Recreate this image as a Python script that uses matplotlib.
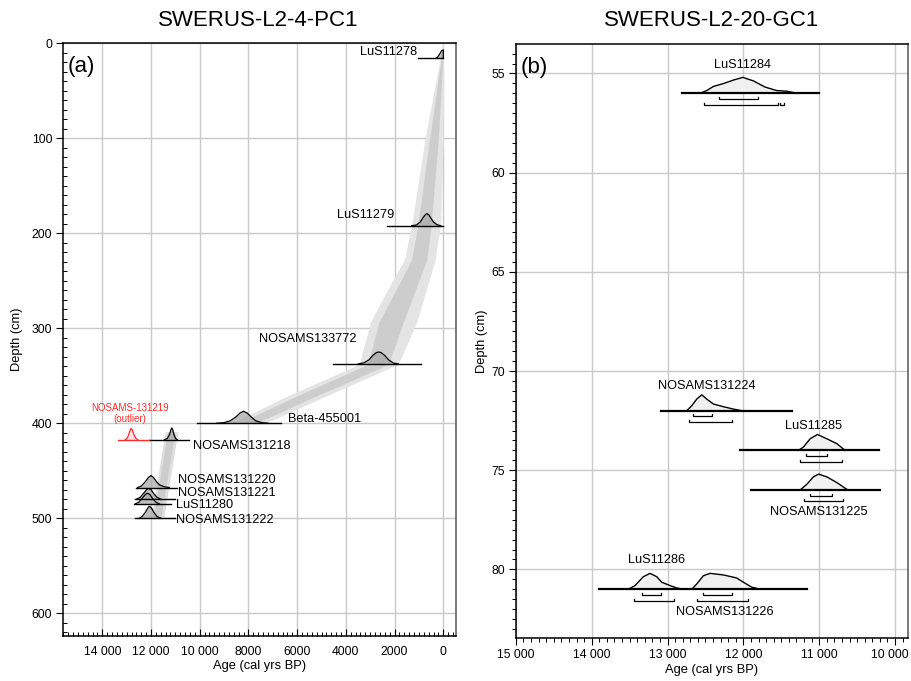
import matplotlib.pyplot as plt
import matplotlib.transforms as mtransforms
import numpy as np
from matplotlib.ticker import FixedLocator, MultipleLocator

plt.rcParams["font.family"] = ["Liberation Sans", "DejaVu Sans"]

# ---------------------------------------------------------------------------
# Panel (a): SWERUS-L2-4-PC1
# age-depth envelope, upper unit (depth cm; ages cal BP: 95% old, 68% old,
# 68% young, 95% young)
UP_DEPTH = [0, 15, 100, 192, 228, 260, 294, 338, 370, 400]
UP_95_OLD = [20, 120, 750, 1300, 1600, 2300, 3000, 3450, 6300, 8700]
UP_68_OLD = [10, 80, 560, 1050, 1300, 1950, 2650, 3100, 5900, 8400]
UP_68_YNG = [0, 20, 200, 500, 680, 1150, 1650, 2250, 5100, 7700]
UP_95_YNG = [-10, -10, 0, 120, 340, 700, 1100, 1850, 4700, 7300]
# lower unit
LO_DEPTH = [409, 500]
LO_95_OLD = [11420, 12000]
LO_68_OLD = [11320, 11900]
LO_68_YNG = [11020, 11600]
LO_95_YNG = [10900, 11480]

A_NAMES = ["LuS11278", "LuS11279", "NOSAMS133772", "Beta-455001",
           "NOSAMS131218", "NOSAMS131220", "NOSAMS131221", "LuS11280",
           "NOSAMS131222"]
A_DEPTH = [15.8, 192, 337.6, 400, 417.5, 467.7, 480, 485, 500]
A_BASE_OLD = [1040, 2320, 4540, 10100, 12090, 12620, 12650, 12690, 12650]
A_BASE_YNG = [0, 0, 920, 6680, 10450, 10950, 11000, 11180, 11000]

# calibrated probability curves (age, relative density)
A_AGE = [
    [300, 235, 150, 66, 0, 0],
    [1300, 1100, 950, 820, 720, 670, 600, 500, 400, 250, 100],
    [3500, 3250, 3050, 2900, 2750, 2650, 2550, 2400, 2250, 2050, 1850],
    [9300, 9000, 8750, 8500, 8350, 8200, 8050, 7900, 7700, 7450, 7200],
    [11450, 11330, 11240, 11180, 11150, 11110, 11060, 10990, 10920],
    [12550, 12400, 12250, 12100, 12000, 11900, 11780, 11650, 11450, 11250],
    [12600, 12450, 12300, 12180, 12100, 12000, 11880, 11750, 11600],
    [12650, 12500, 12350, 12230, 12150, 12050, 11930, 11800, 11650],
    [12480, 12360, 12230, 12130, 12070, 11980, 11870, 11740, 11590],
]
A_P = [
    [0, 0.1, 0.35, 0.65, 0.7, 0],
    [0, 0.06, 0.3, 0.7, 0.95, 1.0, 0.92, 0.6, 0.3, 0.07, 0],
    [0, 0.1, 0.35, 0.7, 0.95, 1.0, 0.95, 0.7, 0.35, 0.08, 0],
    [0, 0.05, 0.2, 0.55, 0.85, 1.0, 0.85, 0.55, 0.2, 0.05, 0],
    [0, 0.12, 0.45, 0.85, 1.0, 0.85, 0.45, 0.12, 0],
    [0, 0.12, 0.45, 0.85, 1.0, 0.85, 0.5, 0.22, 0.06, 0],
    [0, 0.15, 0.5, 0.8, 0.9, 0.8, 0.45, 0.15, 0],
    [0, 0.15, 0.5, 0.8, 0.9, 0.8, 0.45, 0.15, 0],
    [0, 0.15, 0.5, 0.85, 1.0, 0.85, 0.45, 0.12, 0],
]
A_LABEL_AGE = [1060, 2000, 5550, 6370, 10270, 10890, 10890, 10960, 10960]
A_LABEL_DEPTH = [9, 181, 311.6, 396, 423.6, 459.7, 473, 486, 501.8]
A_LABEL_HA = ["right", "right", "center", "left", "left", "left", "left",
              "left", "left"]

# outlier NOSAMS-131219
OUT_DEPTH = 417.5
OUT_BASE = [13370, 12090]
OUT_AGE = [13060, 12960, 12890, 12840, 12810, 12770, 12700, 12620, 12540]
OUT_P = [0, 0.2, 0.6, 0.9, 0.95, 0.85, 0.45, 0.12, 0]

A_XTICKS = [14000, 12000, 10000, 8000, 6000, 4000, 2000, 0]
A_XTICKLABELS = ["14 000", "12 000", "10 000", "8000", "6000", "4000",
                 "2000", "0"]
A_YTICKS = [0, 100, 200, 300, 400, 500, 600]

# ---------------------------------------------------------------------------
# Panel (b): SWERUS-L2-20-GC1
B_NAMES = ["LuS11284", "NOSAMS131224", "LuS11285", "NOSAMS131225",
           "LuS11286", "NOSAMS131226"]
B_DEPTH = [56, 72, 74, 76, 81, 81]
B_LINE_DEPTH = [56, 72, 74, 76, 81]
B_LINE_OLD = [12805, 13086, 12043, 11902, 13900]
B_LINE_YNG = [11001, 11362, 10210, 10197, 11156]
B_68_OLD = [12320, 12660, 11177, 11120, 13340, 12536]
B_68_YNG = [11810, 12410, 10892, 10826, 13090, 12153]
B_95_OLD = [12515, 12717, 11252, 11195, 13442, 12615]
B_95_YNG = [11540, 12153, 10702, 10680, 12914, 11942]
B_95_EXTRA = [11520, 11460]  # small second 95% range of LuS11284

B_AGE = [
    [12571, 12483, 12395, 12264, 12132, 12008, 11868, 11714, 11560, 11428,
     11296],
    [12747, 12681, 12615, 12549, 12483, 12396, 12264, 12132, 12021],
    [11274, 11208, 11120, 11024, 10900, 10768, 10658],
    [11252, 11164, 11077, 11010, 10900, 10768, 10636, 10592],
    [13517, 13429, 13319, 13231, 13143, 13077, 12967, 12879, 12791],
    [12681, 12615, 12528, 12440, 12264, 12088, 12000, 11890, 11780],
]
B_P = [
    [0, 0.17, 0.43, 0.61, 0.83, 1.0, 0.78, 0.39, 0.17, 0.13, 0],
    [0, 0.31, 0.73, 1.0, 0.73, 0.42, 0.25, 0.10, 0],
    [0, 0.21, 0.73, 1.0, 0.73, 0.42, 0],
    [0, 0.36, 0.83, 1.0, 0.83, 0.47, 0.04, 0],
    [0, 0.23, 0.79, 1.0, 0.79, 0.44, 0.23, 0.08, 0],
    [0, 0.33, 0.85, 1.0, 0.9, 0.71, 0.44, 0.13, 0],
]
B_LABEL_AGE = [12008, 12483, 11077, 11010, 13143, 12242]
B_LABEL_DEPTH = [54.58, 70.76, 72.78, 77.1, 79.53, 82.14]

B_XTICKS = [15000, 14000, 13000, 12000, 11000, 10000]
B_XTICKLABELS = ["15 000", "14 000", "13 000", "12 000", "11 000", "10 000"]
B_YTICKS = [55, 60, 65, 70, 75, 80]

A_PEAK_H = 12.6   # cm of depth for p = 1
B_PEAK_H = 0.8
GRID = "#c9c9c9"
LABEL_FS = 9.2


def style_axes(ax):
    ax.grid(True, color=GRID, lw=1.0, zorder=0)
    ax.set_axisbelow(True)
    for side in ("left", "top", "bottom"):
        ax.spines[side].set_linewidth(1.1)
        ax.spines[side].set_color("black")
    ax.spines["right"].set_linewidth(1.1)
    ax.spines["right"].set_color("#555555")
    ax.tick_params(labelsize=8.8, width=0.8, length=5, color="black",
                   pad=3)
    ax.tick_params(which="minor", width=0.7, length=3)


fig = plt.figure(figsize=(9.11, 6.81), dpi=100)

# ---------------- panel (a) ----------------
ax1 = fig.add_axes([0.0695, 0.0661, 0.4310, 0.8703])
style_axes(ax1)
ax1.fill_betweenx(UP_DEPTH, UP_95_OLD, UP_95_YNG, color="#e4e4e4", lw=0,
                  zorder=1)
ax1.fill_betweenx(UP_DEPTH, UP_68_OLD, UP_68_YNG, color="#cdcdcd", lw=0,
                  zorder=1.1)
ax1.fill_betweenx(LO_DEPTH, LO_95_OLD, LO_95_YNG, color="#dedede", lw=0,
                  zorder=1)
ax1.fill_betweenx(LO_DEPTH, LO_68_OLD, LO_68_YNG, color="#cdcdcd", lw=0,
                  zorder=1.1)

for i, name in enumerate(A_NAMES):
    d = A_DEPTH[i]
    ages = np.asarray(A_AGE[i])
    top = d - np.asarray(A_P[i]) * A_PEAK_H
    ax1.fill_between(ages, d, top, color="#a9a9a9", alpha=0.75, lw=0,
                     zorder=3)
    ax1.plot(ages, top, color="black", lw=0.9, zorder=4)
    ax1.plot([A_BASE_OLD[i], A_BASE_YNG[i]], [d, d], color="black", lw=1.0,
             zorder=4)
    ax1.text(A_LABEL_AGE[i], A_LABEL_DEPTH[i], name, ha=A_LABEL_HA[i],
             va="center", fontsize=LABEL_FS, zorder=5)

out_top = OUT_DEPTH - np.asarray(OUT_P) * A_PEAK_H
ax1.fill_between(OUT_AGE, OUT_DEPTH, out_top, color="#fbe3e3", lw=0, zorder=3)
ax1.plot(OUT_AGE, out_top, color="#ff2a2a", lw=0.9, zorder=4)
ax1.plot(OUT_BASE, [OUT_DEPTH, OUT_DEPTH], color="#ff2a2a", lw=1.0, zorder=4)
ax1.text(12850, 383.6, "NOSAMS-131219", color="#ff2a2a", fontsize=7,
         ha="center", va="center")
ax1.text(12850, 395.8, "(outlier)", color="#ff2a2a", fontsize=7,
         ha="center", va="center")

ax1.set_xlim(15600, -520)
ax1.set_ylim(624, 0)
ax1.xaxis.set_major_locator(FixedLocator(A_XTICKS))
ax1.set_xticklabels(A_XTICKLABELS)
ax1.xaxis.set_minor_locator(MultipleLocator(200))
ax1.yaxis.set_major_locator(FixedLocator(A_YTICKS))
ax1.yaxis.set_minor_locator(MultipleLocator(10))
ax1.tick_params(axis="x", which="both", direction="in")
ax1.tick_params(axis="y", which="minor", direction="in")
ax1.tick_params(axis="x", which="major", pad=7)
ax1.set_xlabel("Age (cal yrs BP)", fontsize=9.3, labelpad=2)
ax1.set_ylabel("Depth (cm)", fontsize=9.3, labelpad=6)
ax1.text(0.012, 0.978, "(a)", transform=ax1.transAxes, fontsize=16,
         ha="left", va="top")

# ---------------- panel (b) ----------------
ax2 = fig.add_axes([0.5663, 0.0631, 0.4301, 0.8722])
style_axes(ax2)
for i, d in enumerate(B_LINE_DEPTH):
    ax2.plot([B_LINE_OLD[i], B_LINE_YNG[i]], [d, d], color="black", lw=1.6,
             zorder=4)


def bracket(ax, old, yng, y, h=0.1):
    ax.plot([old, old, yng, yng], [y - h, y, y, y - h], color="black",
            lw=0.9, zorder=4)


for i, name in enumerate(B_NAMES):
    d = B_DEPTH[i]
    ages = np.asarray(B_AGE[i])
    top = d - np.asarray(B_P[i]) * B_PEAK_H
    ax2.fill_between(ages, d, top, color="#f0f0f0", lw=0, zorder=3)
    ax2.plot(ages, top, color="black", lw=1.0, zorder=4)
    bracket(ax2, B_68_OLD[i], B_68_YNG[i], d + 0.29)
    bracket(ax2, B_95_OLD[i], B_95_YNG[i], d + 0.57)
    ax2.text(B_LABEL_AGE[i], B_LABEL_DEPTH[i], name, ha="center",
             va="center", fontsize=LABEL_FS, zorder=5)
bracket(ax2, B_95_EXTRA[0], B_95_EXTRA[1], B_DEPTH[0] + 0.57)

ax2.set_xlim(15000, 9833)
ax2.set_ylim(83.46, 53.52)
ax2.xaxis.set_major_locator(FixedLocator(B_XTICKS))
ax2.set_xticklabels(B_XTICKLABELS)
ax2.xaxis.set_minor_locator(MultipleLocator(100))
ax2.yaxis.set_major_locator(FixedLocator(B_YTICKS))
ax2.yaxis.set_minor_locator(MultipleLocator(0.5))
ax2.set_xlabel("Age (cal yrs BP)", fontsize=9.3, labelpad=2)
ax2.set_ylabel("Depth (cm)", fontsize=9.3, labelpad=2)
ax2.text(0.012, 0.978, "(b)", transform=ax2.transAxes, fontsize=16,
         ha="left", va="top")
# keep the right-most tick label inside the figure
last = ax2.get_xticklabels()[-1]
last.set_transform(last.get_transform() + mtransforms.ScaledTranslation(
    -4 / 72, 0, fig.dpi_scale_trans))

fig.text(0.2832, 0.970, "SWERUS-L2-4-PC1", ha="center", va="center",
         fontsize=16)
fig.text(0.7816, 0.970, "SWERUS-L2-20-GC1", ha="center", va="center",
         fontsize=16)

fig.savefig("out.png", dpi=100)
